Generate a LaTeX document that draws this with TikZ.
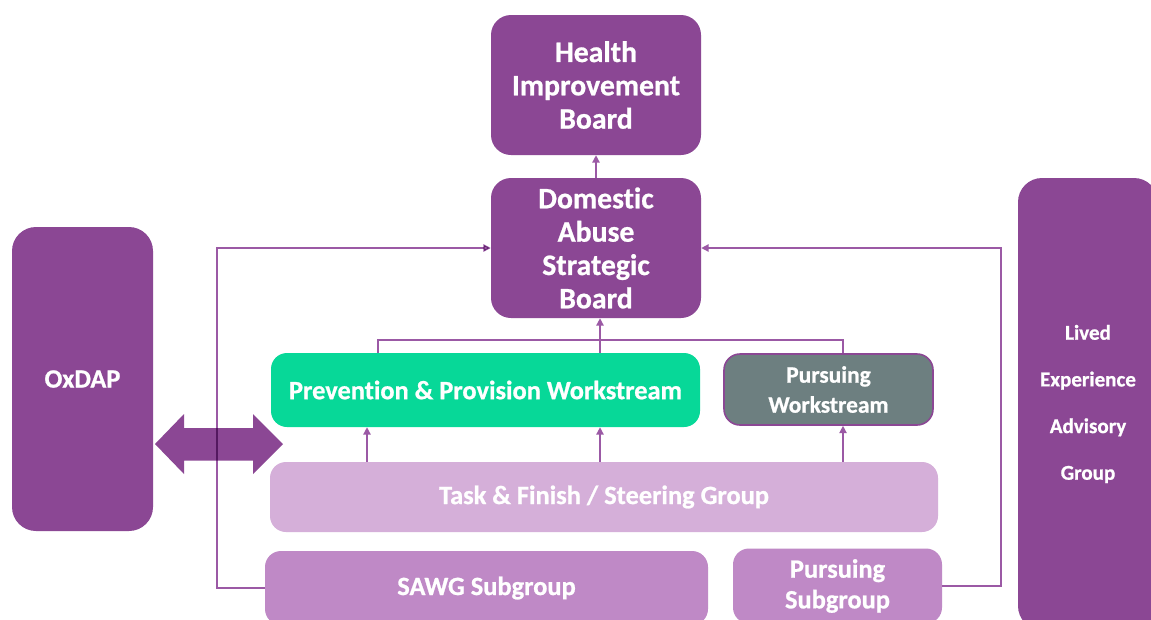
\documentclass[tikz,border=0pt]{standalone}
\usepackage{fontspec}
\setmainfont{Carlito}[Ligatures=NoCommon, BoldFeatures={FakeBold=0.8}]
\usetikzlibrary{arrows.meta}
\definecolor{pur}{HTML}{8B4794}
\definecolor{grn}{HTML}{07D898}
\definecolor{gry}{HTML}{6D7F80}
\definecolor{lpur}{HTML}{D5AFD9}
\definecolor{mpur}{HTML}{BF89C6}
\definecolor{lin}{HTML}{9B59A5}
\tikzset{
  box/.style={rounded corners=15pt, align=center, text=white, font=\bfseries, inner sep=0pt},
  sz/.style 2 args={minimum width=#1*0.75pt, minimum height=#2*0.75pt},
  big/.style={font=\fontsize{22.3}{25}\selectfont\bfseries},
  mid/.style={font=\fontsize{19.8}{23}\selectfont\bfseries},
  pws/.style={font=\fontsize{17.6}{22.5}\selectfont\bfseries},
  small/.style={font=\fontsize{15.8}{35}\selectfont\bfseries},
  conn/.style={draw=lin, line width=1pt},
  arr/.style={conn, -{Triangle[length=5.5pt,width=5.5pt]}},
}
\begin{document}
\begin{tikzpicture}[x=0.75pt,y=-0.75pt]
\useasboundingbox (0,0) rectangle (1151,619);
\clip (0,0) rectangle (1151,619);
\fill[white] (0,0) rectangle (1151,619);
% boxes
\node[box, big, fill=pur, sz={210}{140}] (HIB) at (596,85) {Health\\Improvement\\Board};
\node[box, big, fill=pur, sz={210}{140}] (DASB) at (596,248) {Domestic\\Abuse\\Strategic\\Board};
\node[box, mid, fill=grn, sz={429}{74}, rounded corners=12pt] (PP) at (485.5,390) {Prevention \& Provision Workstream};
\node[box, pws, fill=gry, draw=pur, line width=1.2pt, sz={209}{71}, rounded corners=12pt] (PW) at (828.5,389.5) {Pursuing\\Workstream};
\node[box, mid, fill=lpur, sz={668}{70}, rounded corners=12pt] (TF) at (604,497) {Task \& Finish / Steering Group};
\node[box, mid, fill=mpur, sz={443}{74}, rounded corners=12pt] (SAWG) at (486.5,588) {SAWG Subgroup};
\node[box, mid, fill=mpur, sz={209}{75}, rounded corners=12pt] (PS) at (837.5,586) {Pursuing\\Subgroup};
\node[box, mid, fill=pur, sz={141}{304}, rounded corners=18pt] (OX) at (82.5,379) {OxDAP};
\node[box, small, fill=pur, sz={140}{452}, rounded corners=18pt] (LE) at (1088,404) {Lived\\Experience\\Advisory\\Group};
% coordinates
\coordinate (jL) at (378,340);
\coordinate (jR) at (843,340);
\coordinate (a1) at (367,0);
\coordinate (a2) at (600,0);
\coordinate (a3) at (843,0);
\coordinate (lt) at (217,248);
\coordinate (rt) at (1001,248);
% double arrow
\fill[pur] (155,444) -- (184,414) -- (184,428) -- (253,428) -- (253,414) -- (283,444)
  -- (253,474) -- (253,460.5) -- (184,460.5) -- (184,474) -- cycle;
% connectors
\draw[arr] (DASB.north) -- (HIB.south);
\draw[conn] (PP.north -| jL) -- (jL) -- (jR) -- (PW.north -| jR);
\draw[arr] (PP.north -| a2) -- (DASB.south -| a2);
\draw[arr] (TF.north -| a1) -- (PP.south -| a1);
\draw[arr] (TF.north -| a2) -- (PP.south -| a2);
\draw[arr] (TF.north -| a3) -- (PW.south -| a3);
\begin{scope}[blend mode=multiply]
\draw[arr] (SAWG.west) -| (lt) -- (DASB.west);
\end{scope}
\draw[arr] (PS.east) -| (rt) -- (DASB.east);
\end{tikzpicture}
\end{document}
